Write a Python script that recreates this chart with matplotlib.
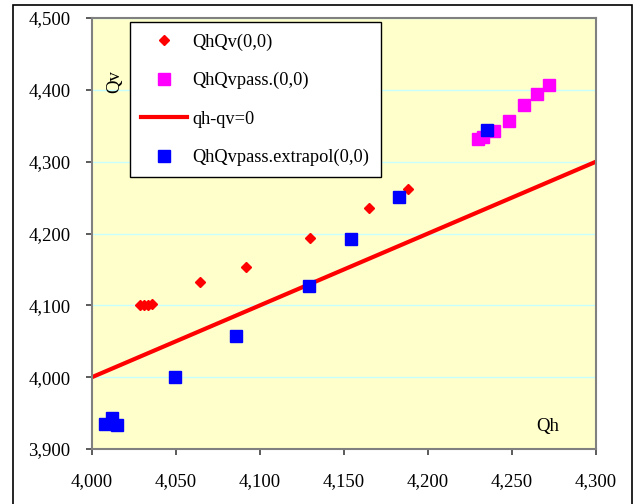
import numpy as np
import matplotlib
matplotlib.use("Agg")
import matplotlib.pyplot as plt
from matplotlib.ticker import FuncFormatter, MultipleLocator
from matplotlib.patches import Rectangle

# QhQv(0,0) - red diamonds
qhqv_x = [4028.6, 4031.1, 4033.5, 4035.5, 4064, 4091.5, 4130, 4165, 4188]
qhqv_y = [4100, 4101, 4101, 4102, 4133, 4154, 4194, 4236, 4261.5]

# QhQvpass.(0,0) - magenta squares
pass_x = [4230, 4233, 4239, 4248, 4257, 4265, 4272]
pass_y = [4331.5, 4334, 4343, 4357, 4379, 4394, 4407]

# qh-qv=0
line_x = [4000, 4300]
line_y = [4000, 4300]

# QhQvpass.extrapol(0,0) - blue squares
extra_x = [4008, 4012, 4015, 4049.5, 4085.5, 4129, 4154, 4183, 4235]
extra_y = [3935, 3943.5, 3933, 4000, 4058, 4127, 4192, 4251, 4344.5]

plt.rcParams['font.family'] = ['Liberation Serif', 'DejaVu Serif']

fig = plt.figure(figsize=(6.36, 5.04), dpi=100)
fig.patches.append(Rectangle((13/636, -0.05), (632-13)/636, 1.05 - 5/504,
                             transform=fig.transFigure, fill=False,
                             edgecolor='black', linewidth=1.2))
ax = fig.add_axes([92/636, 1-449/504, 504/636, 431/504])
ax.set_facecolor('#FFFFCC')

ax.plot(qhqv_x, qhqv_y, 'D', color='red', markersize=4.6, label='QhQv(0,0)')
ax.plot(pass_x, pass_y, 's', color='#FF00FF', markersize=9, label='QhQvpass.(0,0)')
ax.plot(line_x, line_y, '-', color='red', linewidth=3, label='qh-qv=0')
ax.plot(extra_x, extra_y, 's', color='blue', markersize=8.5, label='QhQvpass.extrapol(0,0)')

ax.set_xlim(4000, 4300)
ax.set_ylim(3900, 4500)
ax.xaxis.set_major_locator(MultipleLocator(50))
ax.yaxis.set_major_locator(MultipleLocator(100))
fmt = FuncFormatter(lambda v, p: f"{v:,.0f}")
ax.xaxis.set_major_formatter(fmt)
ax.yaxis.set_major_formatter(fmt)
ax.grid(axis='y', color='#C8FFFF', linewidth=1)
ax.set_axisbelow(True)
for s in ax.spines.values():
    s.set_color('#808080')
    s.set_linewidth(1.5)
ax.tick_params(axis='x', length=4.5, width=1.2, color='#404040', pad=13, labelsize=13.5)
ax.tick_params(axis='y', length=4.5, width=1.2, color='#404040', pad=11, labelsize=13.5)

ax.text(4013.7, 4412, 'Qv', rotation=90, ha='center', va='center', fontsize=13.5)
ax.text(4271.4, 3932, 'Qh', ha='center', va='center', fontsize=13.5)

leg = ax.legend(loc='upper left', bbox_to_anchor=((130-92)/504, (449-22)/431),
                fontsize=13.2, frameon=True, fancybox=False, framealpha=1,
                edgecolor='black', labelspacing=1.16, handlelength=2.5,
                handletextpad=0.3, borderpad=0.62, borderaxespad=0)
leg.get_frame().set_linewidth(1)

fig.savefig('out.png', dpi=100)
